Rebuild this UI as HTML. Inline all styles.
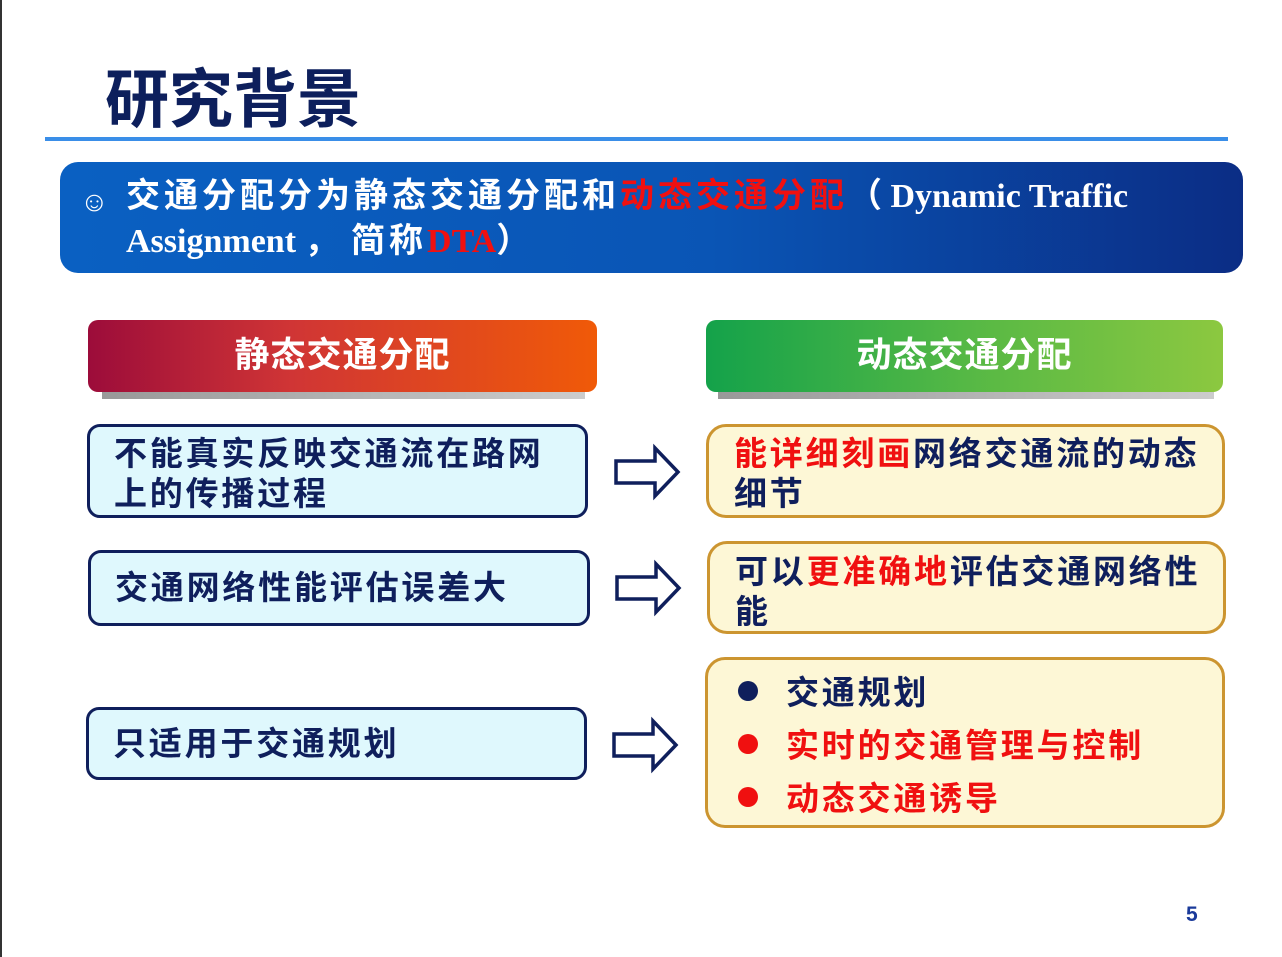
<!DOCTYPE html>
<html><head><meta charset="utf-8"><style>
*{margin:0;padding:0;box-sizing:border-box}
body{width:1282px;height:957px;background:#fff;position:relative;overflow:hidden;font-family:"Liberation Sans","Noto Sans CJK SC",sans-serif}
.a{position:absolute}
.title{left:105px;top:62px;font-size:64px;font-weight:bold;color:#0d1f5c;line-height:76px}
.line{left:45px;top:137px;width:1183px;height:4px;background:#3a8ee8}
.banner{left:60px;top:162px;width:1183px;height:111px;border-radius:18px;background:linear-gradient(90deg,#0a60c2 0%,#0a55b5 55%,#0b2d85 100%);color:#fff;font-family:"Liberation Serif","Noto Sans CJK SC",serif;font-weight:bold;font-size:34px;line-height:45px;padding:12px 0 0 66px}
.cj{letter-spacing:4px}
.hdr{top:320px;height:72px;border-radius:10px;color:#fff;font-weight:bold;font-size:35px;letter-spacing:1px;text-align:center;line-height:72px}
.sh{top:392px;height:7px;background:linear-gradient(90deg,#999,#ccc)}
.lb{background:#dff8fd;border:3px solid #0f1f5c;border-radius:13px;font-size:33px;letter-spacing:2.8px;font-weight:bold;color:#0f1f5c;line-height:40px;padding-left:24px}
.rb{background:#fdf7d6;border:3px solid #cc9530;border-radius:20px;font-size:33px;letter-spacing:2.8px;font-weight:bold;color:#0f1f5c;line-height:40px;padding-left:25px}
.r{color:#f01010}
.dot{display:inline-block;width:20px;height:20px;border-radius:50%;margin-right:28px;vertical-align:3px}
</style></head><body>
<div class="a" style="left:0;top:0;width:2px;height:957px;background:#333"></div>
<div class="a title">研究背景</div>
<div class="a line"></div>
<div class="a banner"><span style="position:absolute;left:20px;top:18px;font-size:28px;font-weight:normal">☺</span><span class="cj">交通分配分为静态交通分配和<span class="r">动态交通分配</span></span>（ Dynamic Traffic<br>Assignment ，<span class="cj"> 简称</span><span class="r">DTA</span>）</div>
<div class="a sh" style="left:102px;width:483px"></div>
<div class="a hdr" style="left:88px;width:509px;background:linear-gradient(90deg,#9c0c3a,#d03535 40%,#f05a08)">静态交通分配</div>
<div class="a sh" style="left:718px;width:496px"></div>
<div class="a hdr" style="left:706px;width:517px;background:linear-gradient(90deg,#14a24a,#55b845 50%,#8cc840)">动态交通分配</div>

<div class="a lb" style="left:87px;top:424px;width:501px;height:94px;padding-top:7px">不能真实反映交通流在路网<br>上的传播过程</div>
<div class="a lb" style="left:88px;top:550px;width:502px;height:76px;padding-top:15px">交通网络性能评估误差大</div>
<div class="a lb" style="left:86px;top:707px;width:501px;height:73px;padding-top:14px">只适用于交通规划</div>

<div class="a rb" style="left:706px;top:424px;width:519px;height:94px;padding-top:7px"><span class="r">能详细刻画</span>网络交通流的动态<br>细节</div>
<div class="a rb" style="left:707px;top:541px;width:519px;height:93px;padding-top:8px">可以<span class="r">更准确地</span>评估交通网络性<br>能</div>
<div class="a rb" style="left:705px;top:657px;width:520px;height:171px;padding-top:6px;line-height:53px;padding-left:30px">
<div><span class="dot" style="background:#0f1f5c"></span>交通规划</div>
<div class="r"><span class="dot" style="background:#f01010"></span>实时的交通管理与控制</div>
<div class="r"><span class="dot" style="background:#f01010"></span>动态交通诱导</div>
</div>

<svg class="a" style="left:0;top:0" width="1282" height="957">
<g fill="#fff" stroke="#0f1f5c" stroke-width="3.5" stroke-linejoin="miter">
<path d="M616,461 H655 V448 L678,472 L655,496 V483 H616 Z"/>
<path d="M617,577 H656 V564 L679,588 L656,612 V599 H617 Z"/>
<path d="M614,734 H653 V721 L676,745 L653,769 V756 H614 Z"/>
</g>
</svg>
<div class="a" style="left:1186px;top:903px;font-size:21px;font-weight:bold;color:#1a3a9a">5</div>
</body></html>
